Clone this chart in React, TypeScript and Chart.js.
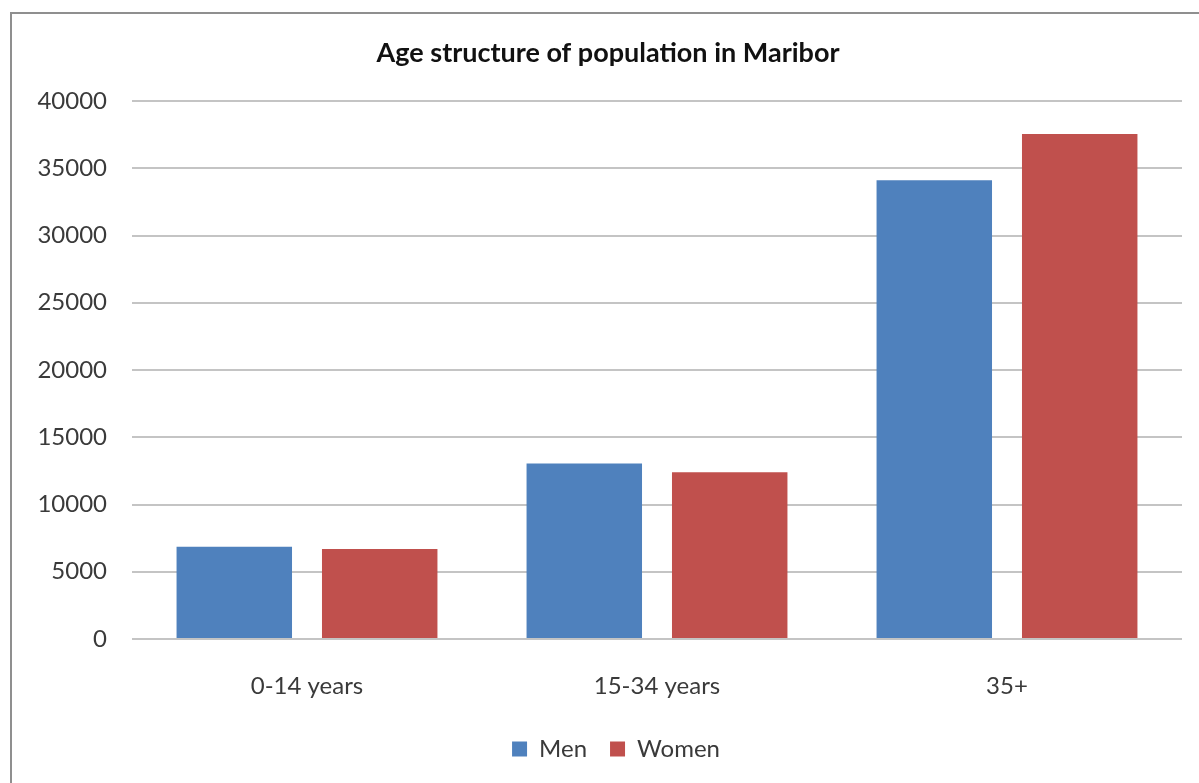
import React, { useEffect, useRef } from "react";
import { Chart, registerables } from "chart.js";

Chart.register(...registerables);

const categories = ["0-14 years", "15-34 years", "35+"];
const seriesNames = ["Men", "Women"];
const menValues = [6850, 13050, 34100];
const womenValues = [6700, 12400, 37550];
const yTickValues = [0, 5000, 10000, 15000, 20000, 25000, 30000, 35000, 40000];
const titleText = "Age structure of population in Maribor";

const FONT = "Lato, 'Open Sans', sans-serif";

const blockShift = {
  id: "blockShift",
  afterLayout(chart: any) {
    const lg = chart.legend;
    if (lg) {
      lg.left += 25;
      lg.right += 25;
    }
    const tb = chart.titleBlock;
    if (tb) {
      tb.left += 17;
      tb.right += 17;
    }
  },
};

export default function App() {
  const canvasRef = useRef<HTMLCanvasElement | null>(null);

  useEffect(() => {
    document.body.style.margin = "0";
    const canvas = canvasRef.current;
    if (!canvas) return;
    const chart = new Chart(canvas, {
      type: "bar",
      data: {
        labels: categories,
        datasets: [
          {
            label: seriesNames[0],
            data: menValues,
            backgroundColor: "#4F81BD",
            borderWidth: 0,
            categoryPercentage: 0.831,
            barPercentage: 0.794,
          },
          {
            label: seriesNames[1],
            data: womenValues,
            backgroundColor: "#C0504D",
            borderWidth: 0,
            categoryPercentage: 0.831,
            barPercentage: 0.794,
          },
        ],
      },
      plugins: [blockShift],
      options: {
        animation: false,
        responsive: false,
        maintainAspectRatio: false,
        layout: { padding: { left: 0, right: 17, top: 0, bottom: 12 } },
        plugins: {
          title: {
            display: true,
            text: titleText,
            color: "#111111",
            font: { family: FONT, size: 27, weight: "bold" },
            padding: { top: 37, bottom: 31.6 },
          },
          legend: {
            display: true,
            position: "bottom",
            labels: {
              color: "#3a3a3a",
              font: { family: FONT, size: 24 },
              boxWidth: 15,
              boxHeight: 15,
              padding: 23,
            },
          },
          tooltip: { enabled: false },
        },
        scales: {
          x: {
            afterFit: (scale: any) => {
              scale.height = 75;
            },
            grid: { display: false, drawTicks: false },
            border: { display: false },
            ticks: {
              color: "#3a3a3a",
              font: { family: FONT, size: 24 },
              padding: 33,
            },
          },
          y: {
            min: 0,
            max: 40000,
            afterFit: (scale: any) => {
              scale.width = 132;
            },
            afterBuildTicks: (scale: any) => {
              scale.ticks = yTickValues.map((v) => ({ value: v }));
            },
            grid: { color: "#C4C4C4", lineWidth: 2, drawTicks: false },
            border: { display: false },
            ticks: {
              color: "#3a3a3a",
              font: { family: FONT, size: 24 },
              padding: 25,
              callback: (v: any) => String(v),
            },
          },
        },
      },
    });
    return () => chart.destroy();
  }, []);

  return (
    <div style={{ position: "relative", width: 1199, height: 783, overflow: "hidden", background: "#fff" }}>
      <div
        style={{
          position: "absolute",
          left: 10,
          top: 12,
          width: 1300,
          height: 900,
          border: "2px solid #8f8f8f",
          boxSizing: "border-box",
        }}
      />
      <canvas ref={canvasRef} width={1199} height={783} style={{ position: "absolute", left: 0, top: 0, width: 1199, height: 783 }} />
    </div>
  );
}
